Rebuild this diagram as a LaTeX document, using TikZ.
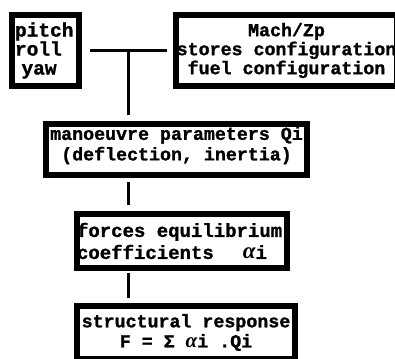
\documentclass[tikz,border=0pt]{standalone}
\usepackage{fontspec}
\setmainfont{Liberation Mono}[BoldFeatures={FakeBold=1.2}]
\newfontfamily\alphafont{Liberation Serif}
\newcommand{\alp}{{\alphafont\bfseries\itshape\fontsize{23}{17}\selectfont α}}
\newcommand{\alpsm}{{\alphafont\bfseries\itshape\fontsize{21}{17}\selectfont α}}
\begin{document}
\begin{tikzpicture}[x=1pt,y=-1pt,
  box/.style={draw, line width=6pt, inner sep=0pt, align=center,
    font=\bfseries\fontsize{18.3}{19}\selectfont},
  conn/.style={line width=3pt}]
\useasboundingbox (0,0) rectangle (395,358);
\clip (0,0) rectangle (395,358);
\fill[white] (0,0) rectangle (395,358);

\node[box, minimum width=67pt, minimum height=71pt, text width=61pt, align=left,
  font=\bfseries\fontsize{19.5}{19}\selectfont] (b1) at (45.5,50.5) {pitch\\roll\\\ yaw};
\node[box, minimum width=221pt, minimum height=71pt] (b2) at (286.5,50.5) {Mach/Zp\\stores configuration\\fuel configuration};
\node[box, minimum width=261pt, minimum height=51pt, text depth=12pt,
  font=\bfseries\fontsize{18.3}{20.5}\selectfont] (b3) at (176.5,149.5) {manoeuvre parameters Qi\\(deflection, inertia)};
\node[box, minimum width=208pt, minimum height=54pt, text width=210pt, align=left,
  font=\bfseries\fontsize{19}{22}\selectfont] (b4) at (182,241) {forces\hspace*{11.4pt}equilibrium\\coefficients\hspace*{29pt}\alp i};
\node[box, minimum width=218pt, minimum height=53pt,
  font=\bfseries\fontsize{18.3}{20}\selectfont] (b5) at (186,332.5) {structural response\\F = Σ \alpsm i .Qi};

\coordinate (j) at (128,51);
\draw[conn, shorten <=8pt, shorten >=6pt] (b1.east |- j) -- (b2.west |- j);
\draw[conn, shorten >=6pt] (j) -- (j |- b3.north);
\draw[conn, shorten <=4pt, shorten >=6pt] (j |- b3.south) -- (j |- b4.north);
\draw[conn, shorten <=2pt, shorten >=5pt] (j |- b4.south) -- (j |- b5.north);
\end{tikzpicture}
\end{document}
